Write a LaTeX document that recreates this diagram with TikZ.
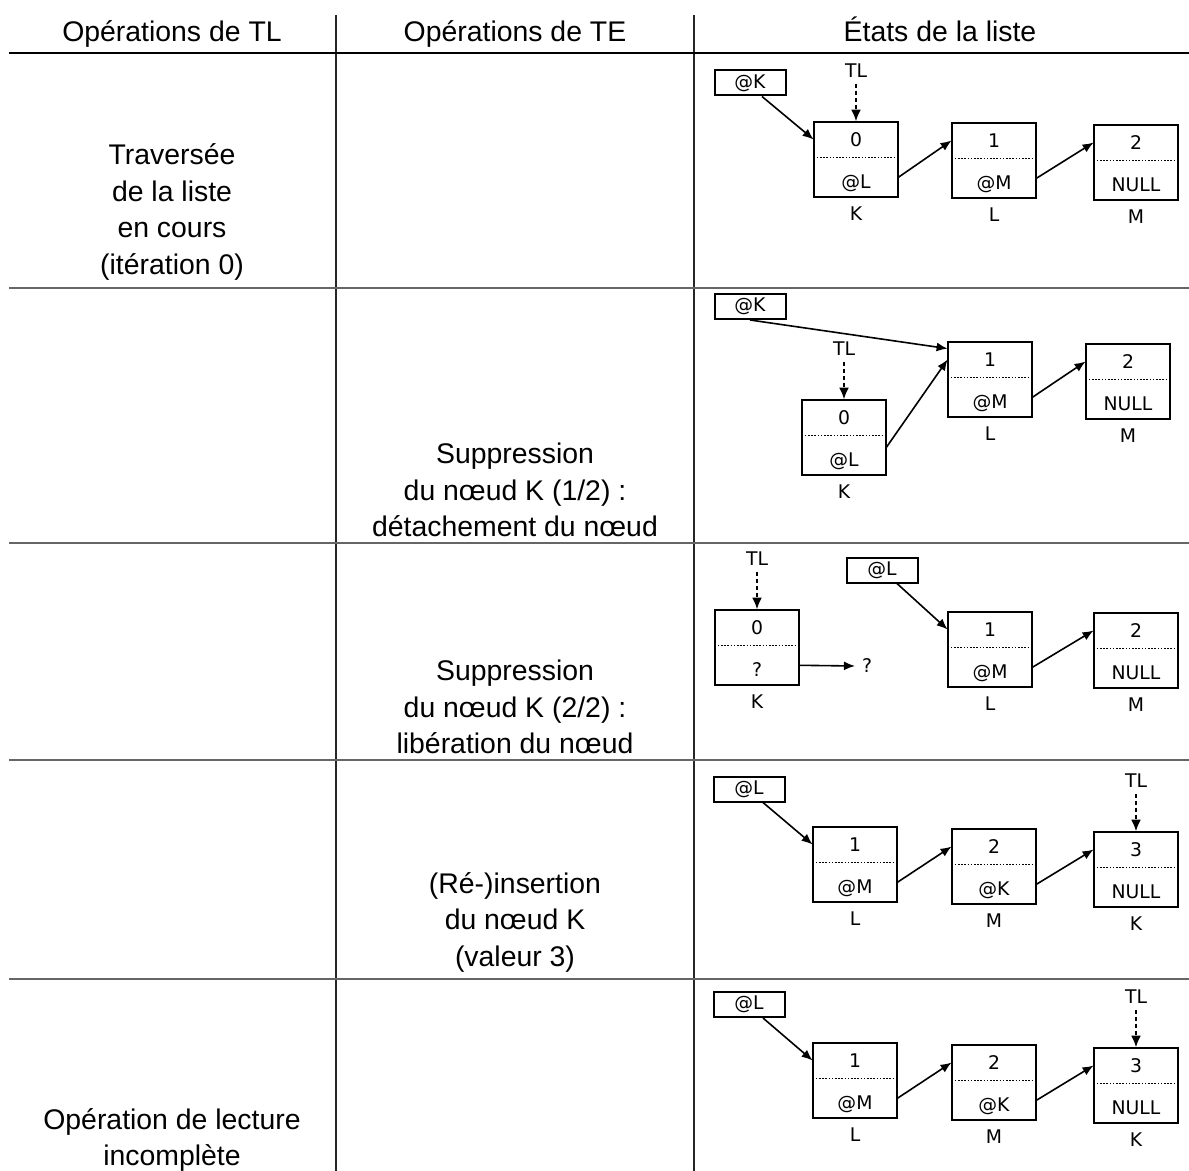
\documentclass[tikz,border=0pt]{standalone}
\usepackage{fontspec}
\setmainfont{Liberation Sans}
\newfontfamily\dejavu{DejaVu Sans}
\usetikzlibrary{positioning,arrows.meta}

% one list element: name, x, y, value, pointer, label
\newcommand\listcell[6]{%
  \node[val] (#1) at (#2,#3) {#4};
  \node[ptr, below=0pt of #1] (#1p) {#5};
  \node[lbl, below=4.5pt of #1p] (#1n) {#6};
  \draw[cellline] (#1.north west) rectangle (#1p.south east);
  \draw[sepline] (#1.south west) -- (#1.south east);}

\begin{document}
\begin{tikzpicture}[x=0.5pt,y=-0.5pt,
  every node/.style={font=\dejavu\fontsize{9.4pt}{11pt}\selectfont},
  celltext/.style={align=center, font=\rmfamily\fontsize{14.2pt}{18.25pt}\selectfont},
  headtext/.style={anchor=base, font=\rmfamily\fontsize{14.2pt}{18.25pt}\selectfont},
  val/.style={minimum width=42pt, minimum height=17.5pt, inner sep=0pt},
  ptr/.style={minimum width=42pt, minimum height=19.5pt, inner sep=0pt, text height=11pt, text depth=0pt},
  lbl/.style={inner sep=0pt},
  head/.style={draw, line width=1pt, minimum width=35.5pt, minimum height=12.5pt, inner sep=0pt},
  tl/.style={inner sep=3pt},
  cellline/.style={line width=1pt},
  sepline/.style={line width=0.5pt, dash pattern=on 0.8pt off 0.8pt},
  link/.style={-{Latex[length=5.5pt,width=4.5pt]}, line width=0.8pt},
  tlarrow/.style={-{Latex[length=6pt,width=5pt]}, line width=1.4pt, dash pattern=on 2pt off 1.5pt},
  rowline/.style={line width=1pt, black!60}]
\useasboundingbox (0,0) rectangle (1189,1171);

\draw[line width=0.9pt, black!85] (336,15) -- (336,1171);
\draw[line width=0.9pt, black!85] (694,15) -- (694,1171);
\draw[line width=1pt] (9,53) -- (1189,53);
\draw[rowline] (9,288) -- (1189,288);
\draw[rowline] (9,543) -- (1189,543);
\draw[rowline] (9,760) -- (1189,760);
\draw[rowline] (9,979) -- (1189,979);

\node[headtext] (optl) at (172,42) {Opérations de TL};
\node[headtext] (opte) at (515,42) {Opérations de TE};
\node[headtext] (etats) at (940,42) {États de la liste};

\node[celltext] (txt1) at (172,212) {Traversée\\de la liste\\en cours\\(itération 0)};
\node[celltext] (txt2) at (515,490) {Suppression\\du nœud K (1/2) :\\détachement du nœud};
\node[celltext] (txt3) at (515,707) {Suppression\\du nœud K (2/2) :\\libération du nœud};
\node[celltext] (txt4) at (515,922) {(Ré-)insertion\\du nœud K\\(valeur 3)};
\node[celltext] (txt5) at (172,1140) {Opération de lecture\\incomplète};

% row 1
\node[head] (h1) at (750,83) {@K};
\listcell{k1}{856}{139.5}{0}{@L}{K}
\listcell{l1}{994}{140.5}{1}{@M}{L}
\listcell{m1}{1136}{142.5}{2}{NULL}{M}
\node[tl, above=19pt of k1] (t1) {TL};
\draw[tlarrow] (t1) -- (k1.north);
\draw[link] ([xshift=6pt]h1.south) -- (k1.west);
\draw[link] (k1p.east) -- (l1.west);
\draw[link] (l1p.east) -- (m1.west);

% row 2
\node[head] (h2) at (750,306.5) {@K};
\listcell{k2}{844}{417.5}{0}{@L}{K}
\listcell{l2}{990}{359.5}{1}{@M}{L}
\listcell{m2}{1128}{361.5}{2}{NULL}{M}
\node[tl, above=19pt of k2] (t2) {TL};
\draw[tlarrow] (t2) -- (k2.north);
\draw[link] (h2.south) -- ([yshift=-3.5pt]l2.north west);
\draw[link] ([yshift=4pt]k2p.east) -- (l2.west);
\draw[link] (l2p.east) -- (m2.west);

% row 3
\node[head] (h3) at (882,570) {@L};
\listcell{k3}{757}{627.5}{0}{?}{K}
\listcell{l3}{990}{629.5}{1}{@M}{L}
\listcell{m3}{1136}{630.5}{2}{NULL}{M}
\node (q3) at (867,666) {?};
\node[tl, above=19pt of k3] (t3) {TL};
\draw[tlarrow] (t3) -- (k3.north);
\draw[link] ([xshift=7.5pt]h3.south) -- (l3.west);
\draw[link] (k3p.east) -- (q3.west);
\draw[link] (l3p.east) -- (m3.west);

% row 4
\node[head] (h4) at (749,789) {@L};
\listcell{l4}{855}{844.5}{1}{@M}{L}
\listcell{m4}{994}{846.5}{2}{@K}{M}
\listcell{k4}{1136}{849.5}{3}{NULL}{K}
\node[tl, above=19pt of k4] (t4) {TL};
\draw[tlarrow] (t4) -- (k4.north);
\draw[link] ([xshift=7pt]h4.south) -- (l4.west);
\draw[link] (l4p.east) -- (m4.west);
\draw[link] (m4p.east) -- (k4.west);

% row 5
\node[head] (h5) at (749,1004.5) {@L};
\listcell{l5}{855}{1060.5}{1}{@M}{L}
\listcell{m5}{994}{1062.5}{2}{@K}{M}
\listcell{k5}{1136}{1065.5}{3}{NULL}{K}
\node[tl, above=19pt of k5] (t5) {TL};
\draw[tlarrow] (t5) -- (k5.north);
\draw[link] ([xshift=7pt]h5.south) -- (l5.west);
\draw[link] (l5p.east) -- (m5.west);
\draw[link] (m5p.east) -- (k5.west);
\end{tikzpicture}
\end{document}
